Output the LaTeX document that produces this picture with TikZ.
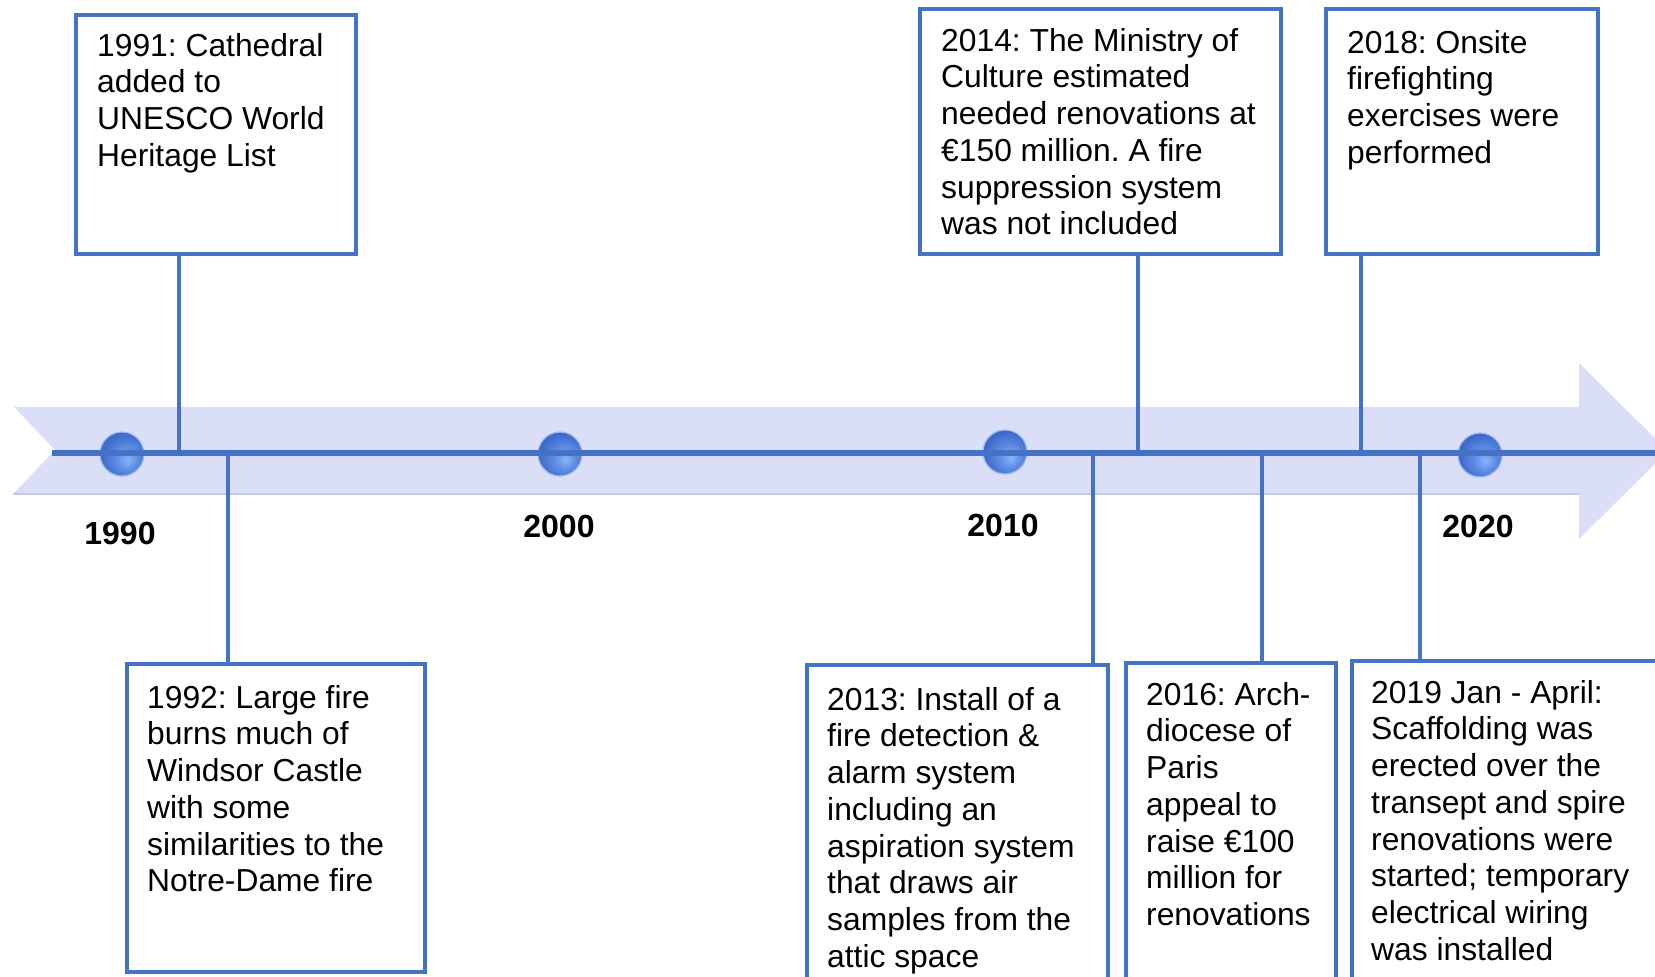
\documentclass[tikz,border=0pt]{standalone}
\usepackage{fontspec}
\setmainfont{Liberation Sans}
\frenchspacing
\definecolor{tlblue}{HTML}{4472C4}
\definecolor{bandfill}{HTML}{DADEF7}
\definecolor{bandedge}{HTML}{C3C8E2}
\definecolor{bubL}{HTML}{8DB3F7}
\definecolor{bubM}{HTML}{5F8EE6}
\definecolor{bubD}{HTML}{3D69C9}
\definecolor{bubRim}{HTML}{9DB8EE}
\pgfdeclareradialshading{bubshade}{\pgfpoint{7bp}{-7bp}}{color(0bp)=(bubL); color(12bp)=(bubM); color(27bp)=(bubD); color(50bp)=(bubD)}
\begin{document}
\begin{tikzpicture}[x=1pt,y=-1pt,
  box/.style={draw=tlblue, line width=4pt, fill=white, inner sep=0pt, outer sep=0pt},
  txt/.style={anchor=north west, inner sep=0pt, align=left, font=\fontsize{31.8}{36.7}\selectfont},
  year/.style={font=\fontsize{32}{38}\selectfont\bfseries, inner sep=0pt},
  stem/.style={draw=tlblue, line width=4.5pt},
  axis/.style={draw=tlblue, line width=5.5pt},
  bubble/.style={circle, minimum size=44pt, inner sep=0pt, shading=bubshade, draw=bubRim, line width=1.2pt}
]
\useasboundingbox (0,0) rectangle (1655,977);
\clip (0,0) rectangle (1655,977);
% band arrow
\fill[bandfill] (13,406) -- (1579,406) -- (1579,363) -- (1668,451) -- (1579,539) -- (1579,494) -- (13,494) -- (55,450) -- cycle;
\draw[bandedge, line width=1.2pt] (13,494) -- (1579,494);
\draw[white!85!bandfill, line width=1pt] (13,406) -- (1579,406);
% bubbles
\node[bubble] (p1990) at (122,454) {};
\node[bubble] (p2000) at (560,454) {};
\node[bubble] (p2010) at (1005,452) {};
\node[bubble] (p2020) at (1480,455) {};
% axis
\coordinate (L) at (52,453);
\coordinate (R) at (1665,453);
\draw[axis] (L) -- (R);
% stem points on axis
\coordinate (s1991) at (179,453);
\coordinate (s1992) at (228,453);
\coordinate (s2013) at (1093,453);
\coordinate (s2014) at (1138,453);
\coordinate (s2016) at (1262,453);
\coordinate (s2018) at (1361,453);
\coordinate (s2019) at (1420,453);
% boxes
\node[box, minimum width=280pt, minimum height=239pt] (b1991) at (215.5,134) {};
\node[box, minimum width=298.5pt, minimum height=308.5pt] (b1992) at (275.75,817.75) {};
\node[box, minimum width=301pt, minimum height=335pt] (b2013) at (957,832.5) {};
\node[box, minimum width=361.5pt, minimum height=244.5pt] (b2014) at (1100.25,131.25) {};
\node[box, minimum width=210.5pt, minimum height=337pt] (b2016) at (1230.75,831.5) {};
\node[box, minimum width=272.5pt, minimum height=244.5pt] (b2018) at (1461.75,131.25) {};
\node[box, minimum width=348.5pt, minimum height=339pt] (b2019) at (1525.75,830.5) {};
% stems
\draw[stem] (b1991.south -| s1991) -- (s1991);
\draw[stem] (s1992) -- (b1992.north -| s1992);
\draw[stem] (s2013) -- (b2013.north -| s2013);
\draw[stem] (b2014.south -| s2014) -- (s2014);
\draw[stem] (s2016) -- (b2016.north -| s2016);
\draw[stem] (b2018.south -| s2018) -- (s2018);
\draw[stem] (s2019) -- (b2019.north -| s2019);
% texts
\node[txt] (t1991) at (97,33) {1991: Cathedral\\added to\\UNESCO World\\Heritage List};
\node[txt] (t1992) at (147,685) {1992: Large fire\\burns much of\\Windsor Castle\\with some\\similarities to the\\Notre-Dame fire};
\node[txt] (t2013) at (827,687) {2013: Install of a\\fire detection \&\\alarm system\\including an\\aspiration system\\that draws air\\samples from the\\attic space};
\node[txt] (t2014) at (941,28) {2014: The Ministry of\\Culture estimated\\needed renovations at\\€150 million. A fire\\suppression system\\was not included};
\node[txt] (t2016) at (1146,682) {2016: Arch-\\diocese of\\Paris\\appeal to\\raise €100\\million for\\renovations};
\node[txt] (t2018) at (1347,30) {2018: Onsite\\firefighting\\exercises were\\performed};
\node[txt] (t2019) at (1371,680) {2019 Jan - April:\\Scaffolding was\\erected over the\\transept and spire\\renovations were\\started; temporary\\electrical wiring\\was installed};
% years
\node[year] (y1990) at (120,533) {1990};
\node[year] (y2000) at (559,526) {2000};
\node[year] (y2010) at (1003,525) {2010};
\node[year] (y2020) at (1478,526) {2020};
\end{tikzpicture}
\end{document}
